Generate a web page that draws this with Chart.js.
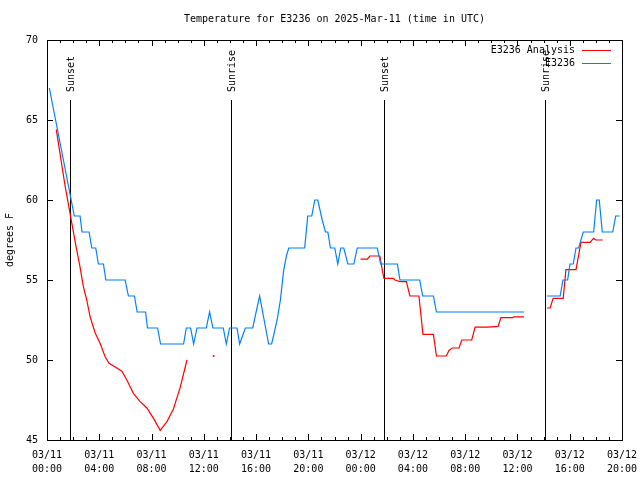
<!DOCTYPE html>
<html>
<head>
<meta charset="utf-8">
<title>Temperature for E3236</title>
<script src="https://cdn.jsdelivr.net/npm/chart.js@4.4.1/dist/chart.umd.min.js"></script>
<style>
  html, body { margin: 0; padding: 0; background: #fff; }
  #wrap { width: 640px; height: 480px; }
</style>
</head>
<body>
<div id="wrap"><canvas id="tempChart" width="640" height="480"></canvas></div>
<script>
// x values are hours since 03/11 00:00 UTC
const titleText = 'Temperature for E3236 on 2025-Mar-11 (time in UTC)';
const tickDays = ['03/11', '03/11', '03/11', '03/11', '03/11', '03/11', '03/12', '03/12', '03/12', '03/12', '03/12', '03/12'];
const tickTimes = ['00:00', '04:00', '08:00', '12:00', '16:00', '20:00', '00:00', '04:00', '08:00', '12:00', '16:00', '20:00'];

// sunrise / sunset markers
const sunHours = [1.79, 14.05, 25.78, 38.12];
const sunLabels = ['Sunset', 'Sunrise', 'Sunset', 'Sunrise'];

// E3236 Analysis (null = gap)
const analysisHours = [0.71, 1.38, 2.22, 2.53, 2.78, 3.04, 3.30, 3.68, 4.06, 4.45, 4.75, 5.34, 5.73, 6.11, 6.62, 7.13, 7.64, 8.15, 8.66, 9.18, 9.68, 10.20, 10.71,
  11.70, 12.75, 13.50,
  23.99, 24.51, 24.71, 25.47, 25.66, 25.78, 26.50, 26.62, 27.01, 27.50, 27.77, 28.46, 28.77, 29.57, 29.80, 30.56, 30.76, 31.02, 31.53, 31.74, 32.50, 32.76, 33.71, 34.52, 34.73, 35.62, 35.75, 36.51,
  37.50,
  38.25, 38.50, 38.73, 39.50, 39.71, 40.48, 40.86, 41.55, 41.83, 42.01, 42.52];
const analysisTemps = [64.4, 60.9, 57.1, 55.8, 54.6, 53.75, 52.7, 51.7, 51.05, 50.2, 49.8, 49.5, 49.3, 48.75, 47.9, 47.4, 47.0, 46.35, 45.6, 46.15, 46.95, 48.3, 50.0,
  null, 50.25, null,
  56.3, 56.3, 56.5, 56.5, 55.6, 55.1, 55.1, 55.0, 54.9, 54.9, 54.0, 54.0, 51.6, 51.6, 50.25, 50.25, 50.6, 50.75, 50.75, 51.25, 51.25, 52.05, 52.05, 52.1, 52.65, 52.65, 52.7, 52.7,
  null,
  53.25, 53.25, 53.85, 53.85, 55.65, 55.65, 57.35, 57.35, 57.6, 57.5, 57.5];

// E3236 observations
const stationHours = [0.18, 2.09, 2.53, 2.68, 3.22, 3.43, 3.73, 3.93, 4.32, 4.50, 5.98, 6.23, 6.69, 6.90, 7.54, 7.69, 8.46, 8.69, 10.45, 10.66, 10.99, 11.22, 11.48,
  12.19, 12.44, 12.70, 13.49, 13.72, 13.97, 14.54, 14.74, 15.18, 15.74, 16.27, 16.96, 17.19, 17.61, 17.86, 18.11, 18.32, 18.50, 19.72, 19.95, 20.26, 20.49, 20.72,
  21.06, 21.31, 21.49, 21.69, 22.02, 22.25, 22.48, 22.71, 23.02, 23.48, 23.74, 25.27, 25.53, 26.81, 27.01, 28.52, 28.75, 29.57, 29.80, 36.51,
  37.30,
  38.25, 39.27, 39.48, 39.84, 40.02, 40.27, 40.48, 40.68, 41.04, 41.83, 42.06, 42.26, 42.49, 43.29, 43.52, 43.82];
const stationTemps = [67, 59, 59, 58, 58, 57, 57, 56, 56, 55, 55, 54, 54, 53, 53, 52, 52, 51, 51, 52, 52, 51, 52,
  52, 53, 52, 52, 51, 52, 52, 51, 52, 52, 54, 51, 51, 52.5, 53.75, 55.6, 56.5, 57, 57, 59, 59, 60, 60,
  58.75, 58, 58, 57, 57, 56, 57, 57, 56, 56, 57, 57, 56, 56, 55, 55, 54, 54, 53, 53,
  null,
  54, 54, 55, 55, 56, 56, 57, 57, 58, 58, 60, 60, 58, 58, 59, 59];

const monoFont = 'DejaVu Sans Mono';

function toPoints(hours, temps) {
  return hours.map((h, i) => ({ x: h, y: temps[i] }));
}

// lone points between gaps get a dot, everything else is just a line
function lonePointRadius(ctx) {
  const data = ctx.dataset.data;
  const i = ctx.dataIndex;
  const prev = data[i - 1];
  const next = data[i + 1];
  const alone = (!prev || prev.y === null) && (!next || next.y === null);
  return alone ? 1 : 0;
}

// gnuplot style frame: box, inward ticks, sun markers, legend and title
const gnuplotFrame = {
  id: 'gnuplotFrame',
  beforeDatasetsDraw(chart) {
    const ctx = chart.ctx;
    const area = chart.chartArea;
    const xs = chart.scales.x;
    ctx.save();
    ctx.strokeStyle = '#000';
    ctx.fillStyle = '#000';
    ctx.lineWidth = 1;
    ctx.font = '10px ' + monoFont;
    sunHours.forEach((h, i) => {
      const px = Math.round(xs.getPixelForValue(h)) + 0.5;
      ctx.beginPath();
      ctx.moveTo(px, area.top + 60);
      ctx.lineTo(px, area.bottom);
      ctx.stroke();
      ctx.save();
      ctx.translate(px + 1, area.top + 52);
      ctx.rotate(-Math.PI / 2);
      ctx.textAlign = 'left';
      ctx.textBaseline = 'middle';
      ctx.fillText(sunLabels[i], 0, 0);
      ctx.restore();
    });
    ctx.restore();
  },
  afterDraw(chart) {
    const ctx = chart.ctx;
    const area = chart.chartArea;
    const xs = chart.scales.x;
    const ys = chart.scales.y;
    ctx.save();
    ctx.strokeStyle = '#000';
    ctx.lineWidth = 1;
    ctx.beginPath();
    // x ticks: every hour, longer every 4 hours
    for (let h = xs.min; h <= xs.max; h++) {
      const px = Math.round(xs.getPixelForValue(h)) + 0.5;
      const len = h % 4 === 0 ? 6 : 3;
      ctx.moveTo(px, area.bottom);
      ctx.lineTo(px, area.bottom - len);
      ctx.moveTo(px, area.top);
      ctx.lineTo(px, area.top + len);
    }
    ys.ticks.forEach(t => {
      const py = Math.round(ys.getPixelForValue(t.value)) + 0.5;
      ctx.moveTo(area.left, py);
      ctx.lineTo(area.left + 6, py);
      ctx.moveTo(area.right, py);
      ctx.lineTo(area.right - 6, py);
    });
    ctx.stroke();
    ctx.strokeRect(Math.round(area.left) + 0.5, Math.round(area.top) + 0.5,
      Math.round(area.right - area.left), Math.round(area.bottom - area.top));

    // legend, top right inside the plot
    ctx.font = '10px ' + monoFont;
    ctx.fillStyle = '#000';
    ctx.textAlign = 'right';
    ctx.textBaseline = 'middle';
    chart.data.datasets.forEach((ds, i) => {
      const ly = area.top + 10 + i * 13;
      ctx.fillText(ds.label, area.right - 47, ly);
      ctx.strokeStyle = ds.borderColor;
      ctx.beginPath();
      ctx.moveTo(area.right - 40, Math.round(ly) + 0.5);
      ctx.lineTo(area.right - 11, Math.round(ly) + 0.5);
      ctx.stroke();
    });

    // title centred on the plot area
    ctx.textAlign = 'center';
    ctx.fillText(titleText, (area.left + area.right) / 2, 19);
    ctx.restore();
  }
};

new Chart(document.getElementById('tempChart').getContext('2d'), {
  type: 'line',
  data: {
    datasets: [{
      label: 'E3236 Analysis',
      data: toPoints(analysisHours, analysisTemps),
      borderColor: '#ff0000',
      backgroundColor: '#ff0000',
      borderWidth: 1.2,
      pointRadius: lonePointRadius,
      pointBorderWidth: 0,
      spanGaps: false,
      tension: 0,
      order: 2
    }, {
      label: 'E3236',
      data: toPoints(stationHours, stationTemps),
      borderColor: '#0080ff',
      backgroundColor: '#0080ff',
      borderWidth: 1.2,
      pointRadius: 0,
      spanGaps: false,
      tension: 0,
      order: 1
    }]
  },
  options: {
    responsive: false,
    animation: false,
    devicePixelRatio: 1,
    layout: { padding: { top: 40, right: 18, left: 0, bottom: 0 } },
    plugins: {
      legend: { display: false },
      title: { display: false },
      tooltip: { enabled: false }
    },
    scales: {
      x: {
        type: 'linear',
        min: 0,
        max: 44,
        grid: { display: false },
        border: { display: false },
        afterFit: scale => { scale.height = 40; },
        ticks: {
          stepSize: 4,
          autoSkip: false,
          maxRotation: 0,
          padding: 0,
          color: '#000',
          font: { family: monoFont, size: 10, lineHeight: 1.4 },
          callback: value => [tickDays[value / 4], tickTimes[value / 4]]
        }
      },
      y: {
        min: 45,
        max: 70,
        grid: { display: false },
        border: { display: false },
        afterFit: scale => { scale.width = 47; },
        title: {
          display: true,
          text: 'degrees F',
          color: '#000',
          font: { family: monoFont, size: 10 },
          padding: { top: 4, bottom: 0 }
        },
        ticks: {
          stepSize: 5,
          padding: 1,
          color: '#000',
          font: { family: monoFont, size: 10 }
        }
      }
    }
  },
  plugins: [gnuplotFrame]
});
</script>
</body>
</html>
